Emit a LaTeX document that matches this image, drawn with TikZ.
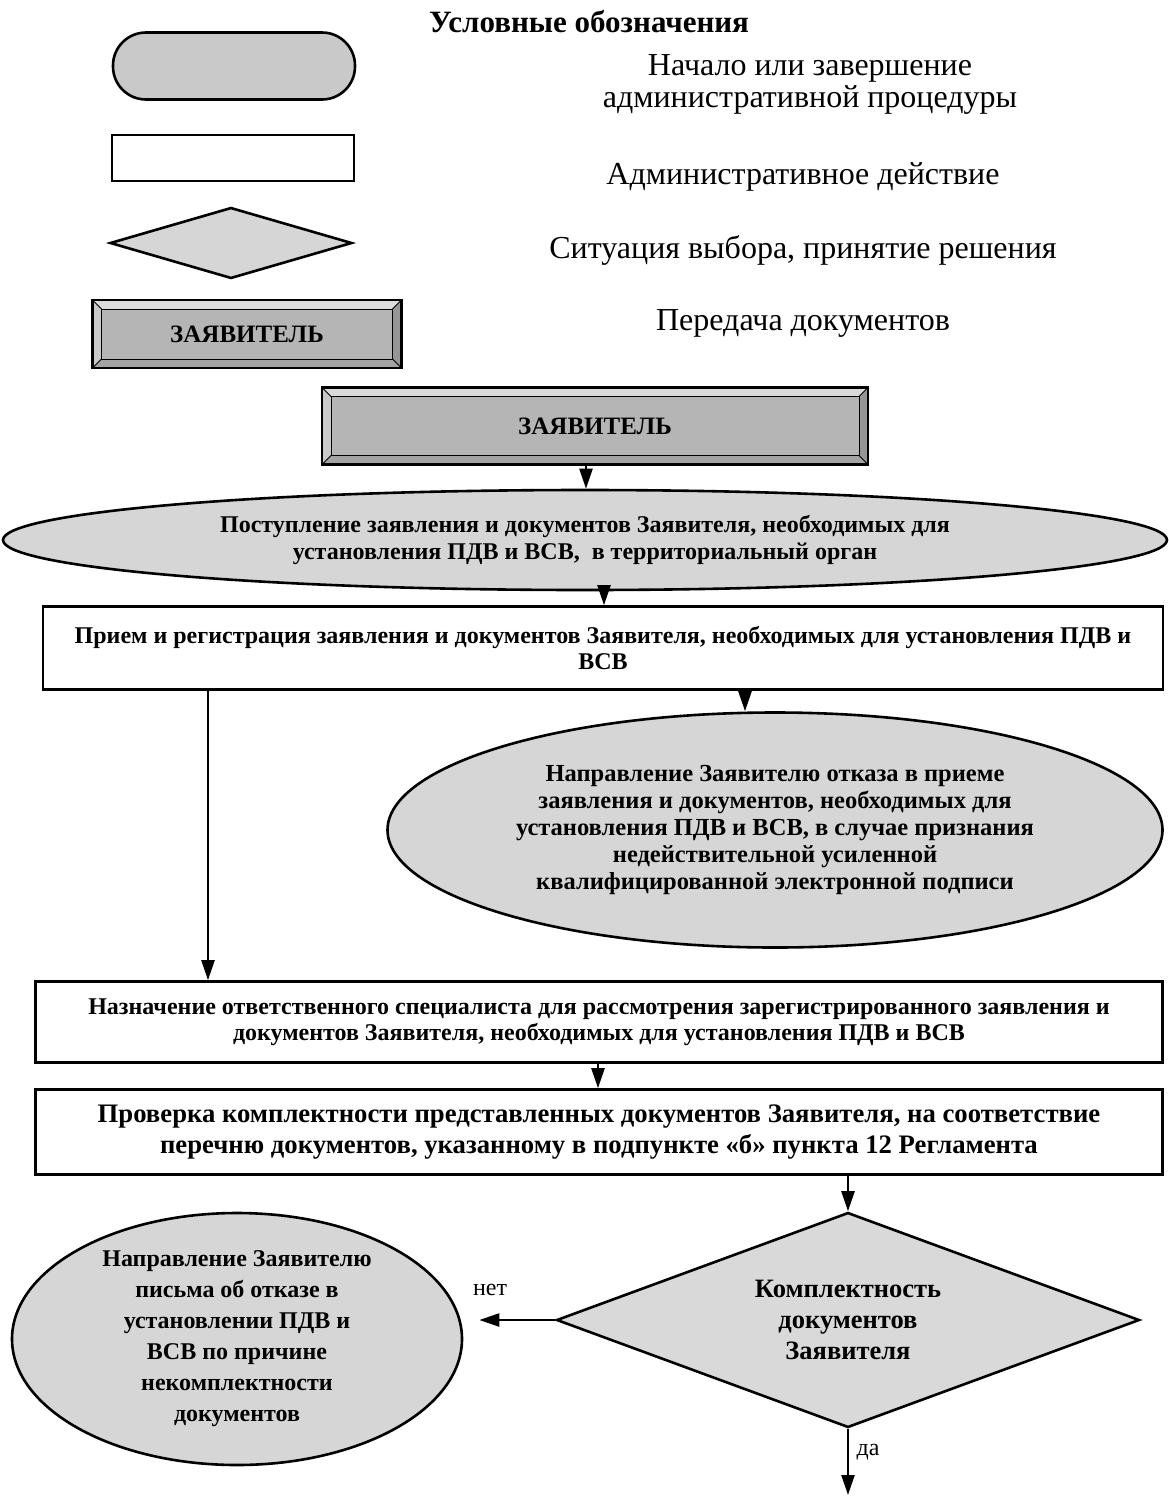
\documentclass[tikz,border=0pt]{standalone}
\usepackage{fontspec}
\setmainfont{Liberation Serif}
\usetikzlibrary{shapes.geometric,arrows.meta}
\begin{document}
\begin{tikzpicture}[x=1pt,y=-1pt,
  arr/.style={line width=2.4pt,-{Triangle[length=20pt,width=13pt]}},
  actbox/.style={draw,line width=2.6pt,fill=white,inner sep=0pt,align=center,
    font=\bfseries\fontsize{24}{26}\selectfont},
  oval/.style={draw,line width=2.6pt,ellipse,fill=gray!32,inner sep=0pt,align=center,
    font=\bfseries\fontsize{24.5}{27}\selectfont},
  decision/.style={draw,line width=2.6pt,diamond,shape aspect=2.7,fill=gray!30,inner sep=0pt,align=center,
    font=\bfseries\fontsize{26.5}{31}\selectfont},
  legtxt/.style={font=\fontsize{32}{32}\selectfont,align=center},
  lbl/.style={font=\fontsize{24}{24}\selectfont},
  bevel/.style={draw,line width=2.6pt,fill=gray!58,inner sep=0pt,
    font=\bfseries\fontsize{25}{25}\selectfont,
    path picture={
      \fill[gray!28] (path picture bounding box.north west) -- (path picture bounding box.north east)
        -- ([shift={(-9,9)}]path picture bounding box.north east) -- ([shift={(9,9)}]path picture bounding box.north west) -- cycle;
      \fill[gray!42] (path picture bounding box.north west) -- (path picture bounding box.south west)
        -- ([shift={(9,-9)}]path picture bounding box.south west) -- ([shift={(9,9)}]path picture bounding box.north west) -- cycle;
      \fill[gray!82] (path picture bounding box.north east) -- (path picture bounding box.south east)
        -- ([shift={(-9,-9)}]path picture bounding box.south east) -- ([shift={(-9,9)}]path picture bounding box.north east) -- cycle;
      \fill[gray!72] (path picture bounding box.south west) -- (path picture bounding box.south east)
        -- ([shift={(-9,-9)}]path picture bounding box.south east) -- ([shift={(9,-9)}]path picture bounding box.south west) -- cycle;
      \draw[line width=1pt] ([shift={(9,9)}]path picture bounding box.north west) rectangle ([shift={(-9,-9)}]path picture bounding box.south east);
      \draw[line width=0.8pt] (path picture bounding box.north west) -- ([shift={(9,9)}]path picture bounding box.north west);
      \draw[line width=0.8pt] (path picture bounding box.north east) -- ([shift={(-9,9)}]path picture bounding box.north east);
      \draw[line width=0.8pt] (path picture bounding box.south west) -- ([shift={(9,-9)}]path picture bounding box.south west);
      \draw[line width=0.8pt] (path picture bounding box.south east) -- ([shift={(-9,-9)}]path picture bounding box.south east);
    }}
]
\useasboundingbox[fill=white] (0,0) rectangle (1169,1497);

% legend
\node[font=\bfseries\fontsize{31}{31}\selectfont] (title) at (589,22) {Условные обозначения};
\node[draw,line width=2.6pt,fill=gray!42,rounded corners=33pt,minimum width=242pt,minimum height=67pt] (lstart) at (234,66) {};
\node[legtxt] (tstart) at (810,84) {Начало или завершение\\административной процедуры};
\node[draw,line width=2.6pt,fill=white,minimum width=242pt,minimum height=46pt] (lact) at (233,158) {};
\node[legtxt] (tact) at (803,177) {Административное действие};
\node[draw,line width=2.6pt,diamond,fill=gray!32,inner sep=0pt,minimum width=242pt,minimum height=71pt] (ldec) at (231,243) {};
\node[legtxt] (tdec) at (803,250) {Ситуация выбора, принятие решения};
\node[bevel,minimum width=309pt,minimum height=68pt] (lzv) at (247,334) {ЗАЯВИТЕЛЬ};
\node[legtxt] (tzv) at (803,323) {Передача документов};

% flow
\node[bevel,minimum width=546pt,minimum height=77pt] (zv) at (595,426) {ЗАЯВИТЕЛЬ};
\node[oval,minimum width=1164pt,minimum height=100pt,font=\bfseries\fontsize{24}{27}\selectfont] (e1) at (585,540)
  {Поступление заявления и документов Заявителя, необходимых для\\установления ПДВ и ВСВ,\ \ в территориальный орган};
\node[actbox,minimum width=1120pt,minimum height=83pt] (b1) at (603,648)
  {Прием и регистрация заявления и документов Заявителя, необходимых для установления ПДВ и\\ВСВ};
\node[oval,minimum width=775pt,minimum height=235pt] (e2) at (775,830)
  {Направление Заявителю отказа в приеме\\заявления и документов, необходимых для\\установления ПДВ и ВСВ, в случае признания\\недействительной усиленной\\квалифицированной электронной подписи};
\node[actbox,minimum width=1127pt,minimum height=81pt] (b2) at (599,1022)
  {Назначение ответственного специалиста для рассмотрения зарегистрированного заявления и\\документов Заявителя, необходимых для установления ПДВ и ВСВ};
\node[actbox,minimum width=1127pt,minimum height=85pt,font=\bfseries\fontsize{26.7}{31}\selectfont] (b3) at (599,1132)
  {Проверка комплектности представленных документов Заявителя, на соответствие\\перечню документов, указанному в подпункте «б» пункта 12 Регламента};
\node[decision,minimum width=583pt,minimum height=215pt] (d) at (848,1320)
  {Комплектность\\документов\\Заявителя};
\node[oval,minimum width=450pt,minimum height=252pt,font=\bfseries\fontsize{24}{31}\selectfont] (e3) at (237,1339)
  {Направление Заявителю\\письма об отказе в\\установлении ПДВ и\\ВСВ по причине\\некомплектности\\документов};
\coordinate (end) at (848,1495);

% connectors
\draw[arr] ([xshift=-9pt]zv.south) -- ([xshift=-9pt]zv.south |- e1.north);
\draw[arr] (604,0 |- e1.south) -- (604,0 |- b1.north);
\draw[arr] (745,0 |- b1.south) -- (745,0 |- e2.north);
\draw[arr] (208,0 |- b1.south) -- (208,0 |- b2.north);
\draw[arr] (598,0 |- b2.south) -- (598,0 |- b3.north);
\draw[arr] (d.north |- b3.south) -- (d.north);
\draw[arr] (d.west) -- ([xshift=16pt]e3.east |- d.west);
\draw[arr] (d.south) -- (end);
\node[lbl] (no) at (490,1290) {нет};
\node[lbl] (yes) at (868,1452) {да};
\end{tikzpicture}
\end{document}
